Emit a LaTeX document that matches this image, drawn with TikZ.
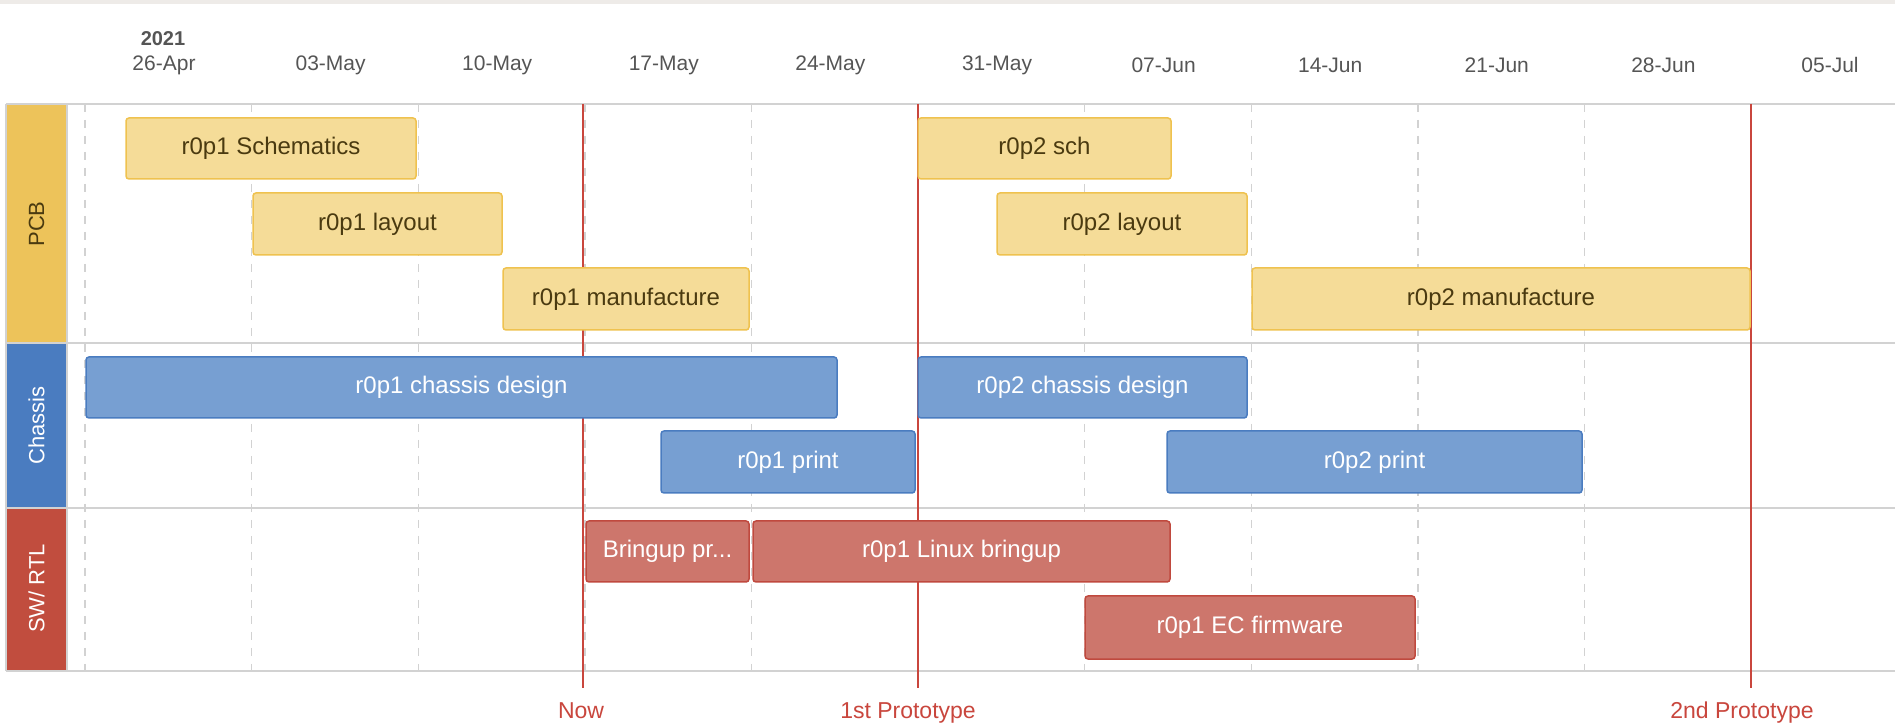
\documentclass[tikz,border=0pt]{standalone}
\usepackage{fontspec}
\setmainfont{Liberation Sans}
\definecolor{topband}{HTML}{EEEBE8}
\definecolor{pcbcat}{HTML}{EDC35A}
\definecolor{pcbfill}{HTML}{F5DC98}
\definecolor{pcbdraw}{HTML}{EFC24F}
\definecolor{pcbtext}{HTML}{4A3A10}
\definecolor{chcat}{HTML}{4A7CC0}
\definecolor{chfill}{HTML}{779FD2}
\definecolor{chdraw}{HTML}{4A7CC0}
\definecolor{swcat}{HTML}{C14D3E}
\definecolor{swfill}{HTML}{CD766C}
\definecolor{swdraw}{HTML}{C0493E}
\definecolor{mile}{HTML}{C9463D}
\definecolor{gridc}{HTML}{D2D2D2}
\definecolor{datec}{HTML}{555555}
\newcommand\gbar[7]{%
  \pgfmathsetmacro\gw{(#5-#3)*0.5}%
  \pgfmathsetmacro\gh{(#6-#4)*0.5}%
  \node[#2, minimum width=\gw pt, minimum height=\gh pt] (#1) at ({(#3+#5)/2},{(#4+#6)/2}) {#7};}
\begin{document}
\begin{tikzpicture}[x=0.5pt, y=-0.5pt,
  barbase/.style={rectangle, rounded corners=1.5pt, line width=0.75pt, inner sep=0pt, font=\fontsize{12}{14}\selectfont},
  pcbbar/.style={barbase, fill=pcbfill, draw=pcbdraw, text=pcbtext},
  chbar/.style={barbase, fill=chfill, draw=chdraw, text=white},
  swbar/.style={barbase, fill=swfill, draw=swdraw, text=white},
  catlbl/.style={rotate=90, font=\fontsize{11}{13}\selectfont},
  datelbl/.style={text=datec, font=\fontsize{10.5}{12}\selectfont},
  milelbl/.style={text=mile, anchor=base, inner sep=0pt, font=\fontsize{11.5}{13}\selectfont},
  hline/.style={draw=gridc, line width=1pt},
  vgrid/.style={draw=gridc, line width=0.7pt, dash pattern=on 4pt off 4pt},
  mileline/.style={draw=mile, line width=1pt}]
\useasboundingbox (0,0) rectangle (1895,726);
\fill[white] (0,0) rectangle (1895,726);
\fill[topband] (0,0) rectangle (1895,4);
% category fills
\fill[pcbcat] (6,104) rectangle (67,343);
\fill[chcat] (6,343) rectangle (67,508);
\fill[swcat] (6,508) rectangle (67,671);
% dashed week grid
\foreach \k in {0,...,9} {
  \draw[vgrid] ({85+166.6*\k},104) -- ({85+166.6*\k},671);
}
% horizontal lines
\foreach \yy in {104,343,508,671} {
  \draw[hline] (6,\yy) -- (1895,\yy);
}
\draw[hline] (6,104) -- (6,671);
\draw[hline] (67,104) -- (67,671);
% category labels
\node[catlbl, text=pcbtext] (catpcb) at (36.5,224) {PCB};
\node[catlbl, text=white] (catch) at (36.5,425.5) {Chassis};
\node[catlbl, text=white] (catsw) at (36.5,588.5) {SW/ RTL};
% header
\node[text=datec, font=\bfseries\fontsize{10}{12}\selectfont] (year) at (163,39) {2021};
\foreach \k/\d in {0/26-Apr,1/03-May,2/10-May,3/17-May,4/24-May,5/31-May,6/07-Jun,7/14-Jun,8/21-Jun,9/28-Jun,10/05-Jul} {
  \node[datelbl] (date\k) at ({164+166.6*\k},65) {\d};
}
% milestones
\coordinate (nowtop) at (583,104);
\coordinate (nowbot) at (583,688);
\coordinate (p1top) at (918,104);
\coordinate (p1bot) at (918,688);
\coordinate (p2top) at (1751,104);
\coordinate (p2bot) at (1751,688);
\draw[mileline] (nowtop) -- (nowbot);
\draw[mileline] (p1top) -- (p1bot);
\draw[mileline] (p2top) -- (p2bot);
\node[milelbl] (nowlbl) at (581,718) {Now};
\node[milelbl] (p1lbl) at (908,718) {1st Prototype};
\node[milelbl] (p2lbl) at (1742,718) {2nd Prototype};
% bars
\gbar{b1}{pcbbar}{126}{118}{416}{179}{r0p1 Schematics}
\gbar{b2}{pcbbar}{253}{193}{502}{255}{r0p1 layout}
\gbar{b3}{pcbbar}{503}{268}{749}{330}{r0p1 manufacture}
\gbar{b4}{pcbbar}{918}{118}{1171}{179}{r0p2 sch}
\gbar{b5}{pcbbar}{997}{193}{1247}{255}{r0p2 layout}
\gbar{b6}{pcbbar}{1252}{268}{1750}{330}{r0p2 manufacture}
\gbar{b7}{chbar}{86}{357}{837}{418}{r0p1 chassis design}
\gbar{b8}{chbar}{918}{357}{1247}{418}{r0p2 chassis design}
\gbar{b9}{chbar}{661}{431}{915}{493}{r0p1 print}
\gbar{b10}{chbar}{1167}{431}{1582}{493}{r0p2 print}
\gbar{b11}{swbar}{586}{521}{749}{582}{Bringup pr...}
\gbar{b12}{swbar}{753}{521}{1170}{582}{r0p1 Linux bringup}
\gbar{b13}{swbar}{1085}{596}{1415}{659}{r0p1 EC firmware}
\end{tikzpicture}
\end{document}
